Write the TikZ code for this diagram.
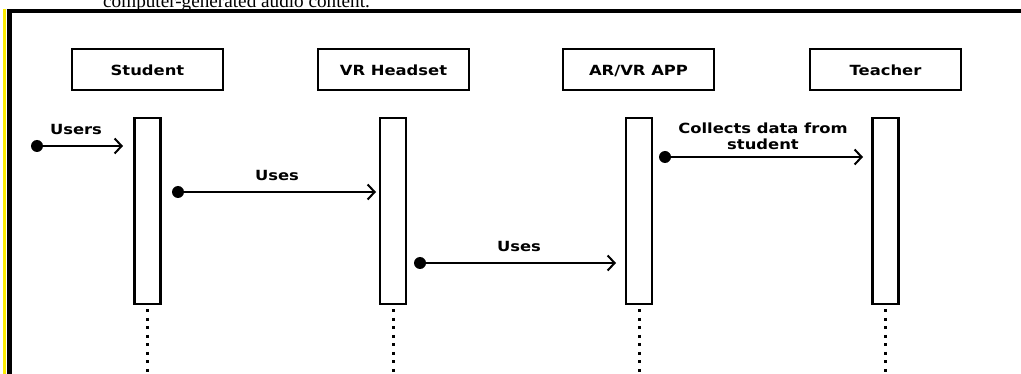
\documentclass[tikz,border=0pt]{standalone}
\usepackage{fontspec}
\usetikzlibrary{arrows.meta}
\newfontfamily\lblfont[FakeStretch=1.17]{DejaVu Sans}
\newfontfamily\docserif{Liberation Serif}
\definecolor{frameyellow}{RGB}{250,235,0}
\begin{document}
\begin{tikzpicture}[x=1pt,y=-1pt,
  lbl/.style={font=\lblfont\bfseries\fontsize{14}{16}\selectfont, inner sep=0pt},
  header/.style={lbl, draw, line width=2.5pt, minimum width=151pt, minimum height=41pt, text height=13pt, text depth=0pt},
  bar/.style={draw, line width=2.3pt, fill=white, minimum width=26pt, minimum height=186pt, inner sep=0pt},
  life/.style={line width=3pt, dash pattern=on 3pt off 5.5pt},
  startdot/.style={circle, fill=black, minimum size=12pt, inner sep=0pt},
  msg/.style={line width=2pt, -{Straight Barb[length=7pt,width=15pt,line width=2pt]}}
]
\useasboundingbox (0,0) rectangle (1021,374);
\clip (0,0) rectangle (1021,374);
\fill[white] (0,0) rectangle (1021,374);

% clipped text of surrounding document
\node[anchor=base west, inner sep=0pt] (doctext) at (103,7.3) {\docserif\fontsize{19.2pt}{21pt}\selectfont computer-generated audio content.};

% frame
\draw[frameyellow, line width=3pt] (4.2,9.3) -- (4.2,380);
\draw[line width=5pt] (9.2,11.3) -- (9.2,380);
\draw[line width=4pt] (6.7,11.3) -- (1030,11.3);

% headers
\node[header] (hS) at (147.5,69.5) {Student};
\node[header] (hV) at (393.5,69.5) {VR Headset};
\node[header] (hA) at (638.5,69.5) {AR/VR APP};
\node[header] (hT) at (885.5,69.5) {Teacher};

% lifeline ends
\coordinate (eS) at (147.5,380);
\coordinate (eV) at (393,380);
\coordinate (eA) at (639,380);
\coordinate (eT) at (885.5,380);

% activation bars
\node[bar, anchor=north] (bS) at (147.5,117) {};
\node[bar, anchor=north] (bV) at (393,117) {};
\node[bar, anchor=north] (bA) at (639,117) {};
\node[bar, anchor=north] (bT) at (885.5,117) {};

\draw[life] (bS.south) ++(0,4) -- (eS);
\draw[life] (bV.south) ++(0,4) -- (eV);
\draw[life] (bA.south) ++(0,4) -- (eA);
\draw[life] (bT.south) ++(0,4) -- (eT);

% messages
\node[startdot] (d1) at (37,146) {};
\coordinate (t1) at (123,146);
\draw[msg] (d1.center) -- (t1);
\node[lbl, anchor=base] (l1) at (76,135) {Users};

\node[startdot] (d2) at (178,192) {};
\coordinate (t2) at (376,192);
\draw[msg] (d2.center) -- (t2);
\node[lbl, anchor=base] (l2) at (277,181) {Uses};

\node[startdot] (d3) at (420,263) {};
\coordinate (t3) at (616,263);
\draw[msg] (d3.center) -- (t3);
\node[lbl, anchor=base] (l3) at (519,252) {Uses};

\node[startdot] (d4) at (665,157) {};
\coordinate (t4) at (863,157);
\draw[msg] (d4.center) -- (t4);
\node[lbl, align=center] (l4) at (763,136) {Collects data from\\student};
\end{tikzpicture}
\end{document}
